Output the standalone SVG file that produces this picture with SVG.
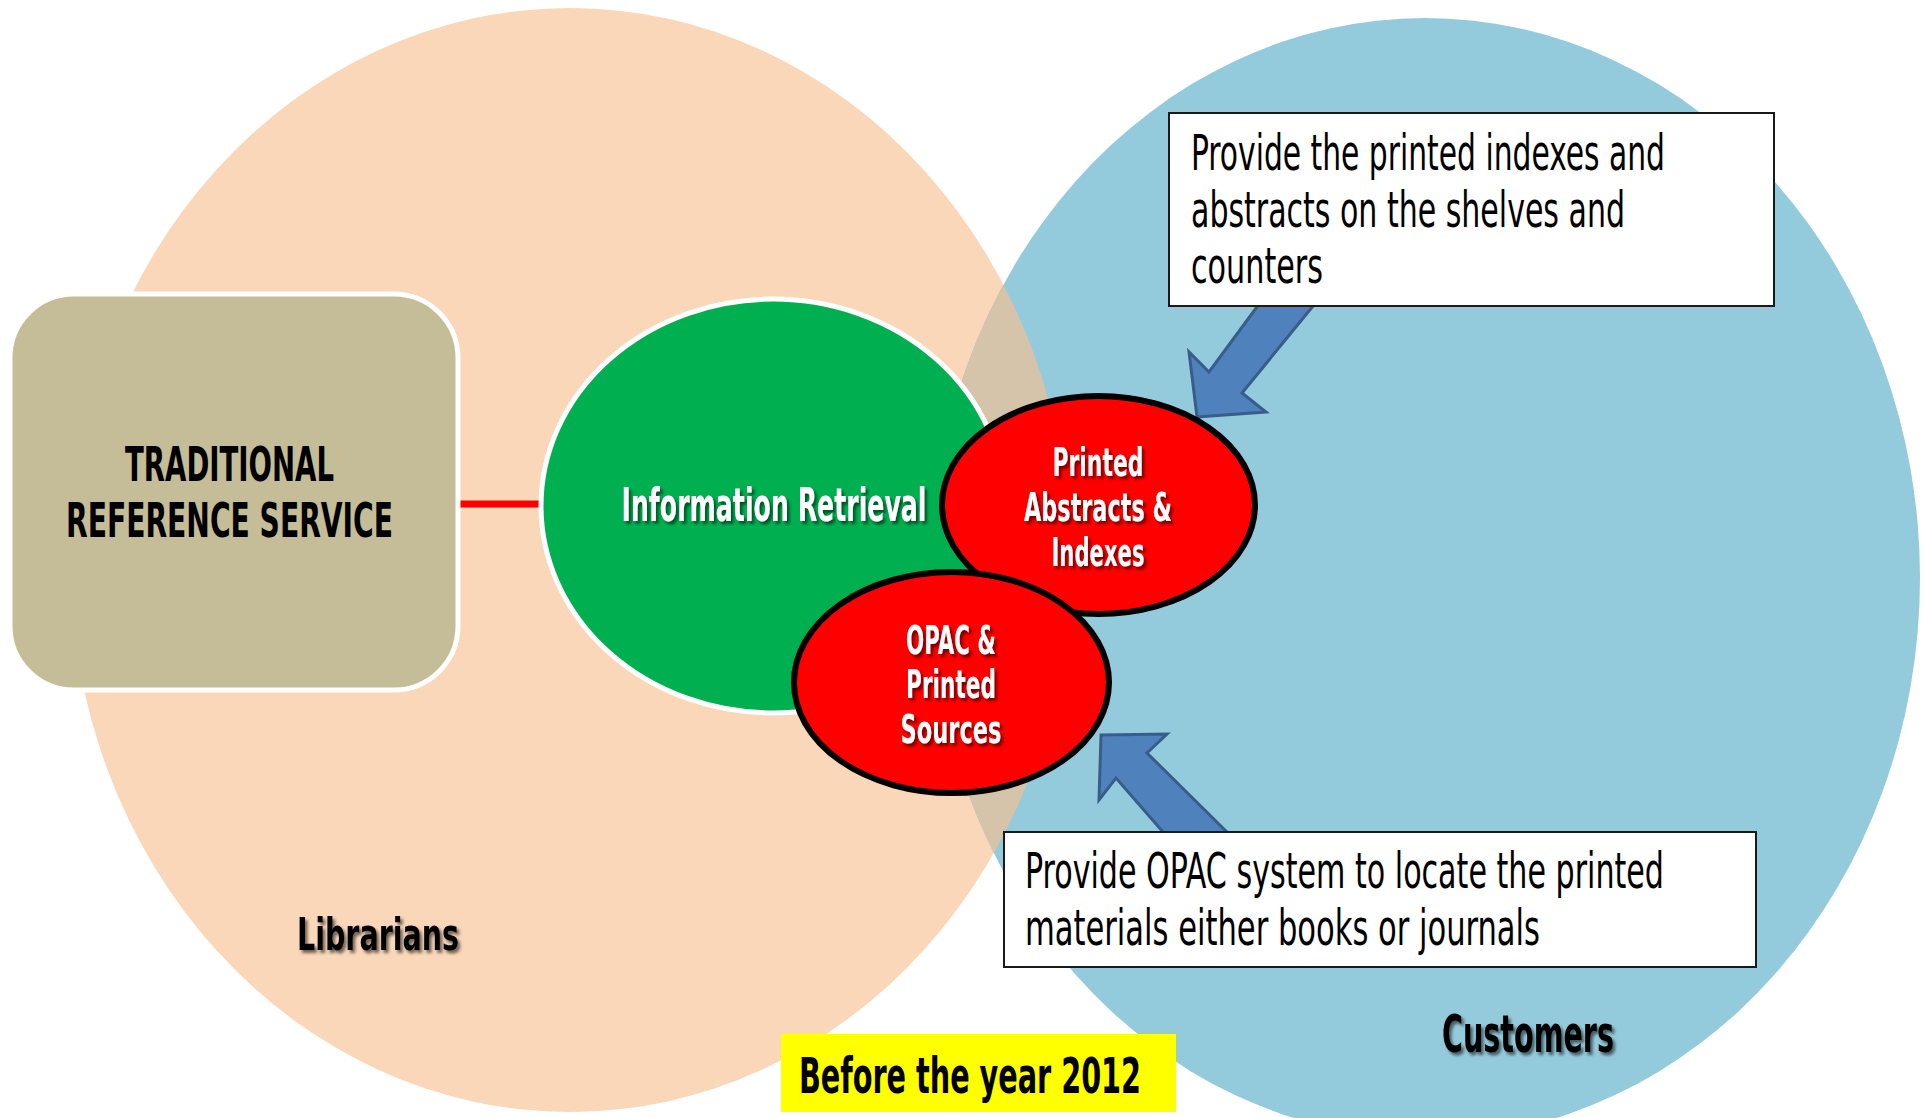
<svg xmlns="http://www.w3.org/2000/svg" width="1924" height="1118" viewBox="0 0 1924 1118">
<defs>
<style>
.t{font-family:"Liberation Sans Narrow","Arial Narrow","DejaVu Sans Condensed","Liberation Sans",sans-serif;}
.b{font-weight:bold;}
.w{fill:#FFFFFF;}
.k{fill:#000000;}
.m{text-anchor:middle;}
.note{font-size:32px;}
.box{fill:#FFFFFF;stroke:#1A1A1A;stroke-width:2;}
.red{fill:#FF0000;stroke:#000000;stroke-width:6;}
.arrow{fill:#4F81BD;stroke:#385D8A;stroke-width:3;stroke-linejoin:miter;}
</style>
<filter id="sh" x="-10%" y="-20%" width="130%" height="150%">
<feDropShadow dx="2.5" dy="3" stdDeviation="1.5" flood-color="#000000" flood-opacity="0.55"/>
</filter>
<clipPath id="peachClip"><ellipse cx="570" cy="560" rx="500" ry="552"/></clipPath>
</defs>

<g id="venn-librarians"><ellipse cx="570" cy="560" rx="500" ry="552" fill="#FAD7B9"/></g>
<g id="venn-customers"><ellipse cx="1425" cy="578" rx="495" ry="560" fill="#94CBDC"/></g>
<g id="venn-overlap"><ellipse cx="1425" cy="578" rx="495" ry="560" fill="#D5C3AA" clip-path="url(#peachClip)"/></g>

<g id="connectors">
<line x1="459" y1="504" x2="542" y2="504" stroke="#FF0000" stroke-width="7"/>
<polygon class="arrow" points="1197,417 1266,412 1242,393 1318,300 1262,300 1209,372 1189,352"/>
<polygon class="arrow" points="1101,735 1167,734 1147,753 1235,840 1170,840 1116,778 1099,800"/>
</g>

<g id="node-traditional">
<rect x="10" y="294" width="448" height="396" rx="64" ry="64" fill="#C5BD98" stroke="#FFFFFF" stroke-width="5"/>
<text class="t b k m" font-size="30" transform="translate(229.5,481) scale(1,1.6)" textLength="209" lengthAdjust="spacingAndGlyphs">TRADITIONAL</text>
<text class="t b k m" font-size="30" transform="translate(229.5,537) scale(1,1.6)" textLength="327" lengthAdjust="spacingAndGlyphs">REFERENCE SERVICE</text>
</g>

<g id="node-information-retrieval">
<ellipse cx="773" cy="506" rx="232" ry="207" fill="#00B050" stroke="#FFFFFF" stroke-width="5"/>
<g filter="url(#sh)">
<text class="t b w m" font-size="26" transform="translate(774,521) scale(1,1.8)" textLength="305" lengthAdjust="spacingAndGlyphs">Information Retrieval</text>
</g>
</g>

<g id="node-printed-abstracts">
<ellipse class="red" cx="1098.5" cy="505" rx="156.5" ry="109"/>
<g filter="url(#sh)">
<text class="t b w m" font-size="23" transform="translate(1098,476) scale(1,1.67)" textLength="91" lengthAdjust="spacingAndGlyphs">Printed</text>
<text class="t b w m" font-size="23" transform="translate(1098,521) scale(1,1.67)" textLength="148" lengthAdjust="spacingAndGlyphs">Abstracts &amp;</text>
<text class="t b w m" font-size="23" transform="translate(1098,566) scale(1,1.67)" textLength="93" lengthAdjust="spacingAndGlyphs">Indexes</text>
</g>
</g>

<g id="node-opac">
<ellipse class="red" cx="951.5" cy="682.5" rx="157.5" ry="110.5"/>
<g filter="url(#sh)">
<text class="t b w m" font-size="23" transform="translate(951,654) scale(1,1.67)" textLength="90" lengthAdjust="spacingAndGlyphs">OPAC &amp;</text>
<text class="t b w m" font-size="23" transform="translate(951,698) scale(1,1.67)" textLength="90" lengthAdjust="spacingAndGlyphs">Printed</text>
<text class="t b w m" font-size="23" transform="translate(951,743) scale(1,1.67)" textLength="101" lengthAdjust="spacingAndGlyphs">Sources</text>
</g>
</g>

<g id="note-printed-indexes">
<rect class="box" x="1169" y="113" width="605" height="193"/>
<text class="t k note" transform="translate(1191,170) scale(1,1.55)" textLength="474" lengthAdjust="spacingAndGlyphs">Provide the printed indexes and</text>
<text class="t k note" transform="translate(1191,227) scale(1,1.55)" textLength="434" lengthAdjust="spacingAndGlyphs">abstracts on the shelves and</text>
<text class="t k note" transform="translate(1191,283) scale(1,1.55)" textLength="132" lengthAdjust="spacingAndGlyphs">counters</text>
</g>

<g id="note-opac">
<rect class="box" x="1004" y="832" width="752" height="135"/>
<text class="t k note" transform="translate(1025,888) scale(1,1.55)" textLength="639" lengthAdjust="spacingAndGlyphs">Provide OPAC system to locate the printed</text>
<text class="t k note" transform="translate(1025,945) scale(1,1.55)" textLength="515" lengthAdjust="spacingAndGlyphs">materials either books or journals</text>
</g>

<g id="label-librarians" filter="url(#sh)">
<text class="t b k" font-size="29" transform="translate(297,950) scale(1,1.56)" textLength="162" lengthAdjust="spacingAndGlyphs">Librarians</text>
</g>

<g id="label-customers" filter="url(#sh)">
<text class="t b k" font-size="32" transform="translate(1442,1052) scale(1,1.59)" textLength="172" lengthAdjust="spacingAndGlyphs">Customers</text>
</g>

<g id="label-year">
<rect x="781" y="1034" width="395" height="78" fill="#FFFF00"/>
<text class="t b k" font-size="30" transform="translate(799,1093) scale(1,1.65)" textLength="342" lengthAdjust="spacingAndGlyphs">Before the year 2012</text>
</g>
</svg>
